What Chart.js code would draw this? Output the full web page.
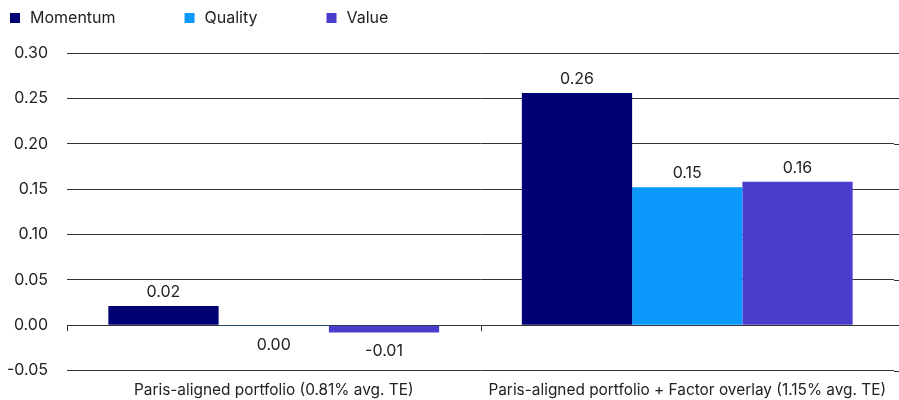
<!DOCTYPE html>
<html>
<head>
<meta charset="utf-8">
<script src="https://cdn.jsdelivr.net/npm/chart.js@4"></script>
<style>
html,body{margin:0;padding:0;background:#fff;}
#wrap{width:899px;height:400px;}
</style>
</head>
<body>
<div id="wrap"><canvas id="c" width="899" height="400"></canvas></div>
<script>
const categories = ["Paris-aligned portfolio (0.81% avg. TE)", "Paris-aligned portfolio + Factor overlay (1.15% avg. TE)"];
const seriesNames = ["Momentum", "Quality", "Value"];
const momentum = [0.021, 0.256];
const quality = [-0.001, 0.152];
const value = [-0.008, 0.158];
const seriesColors = ["#000075", "#0a98fa", "#4a3dcb"];
const yTicks = [-0.05, 0.00, 0.05, 0.10, 0.15, 0.20, 0.25, 0.30];

const FONT = "Inter, 'Noto Sans', sans-serif";
const TEXT = "#222222";

const extras = {
  id: 'extras',
  afterDatasetsDraw(chart) {
    const ctx = chart.ctx;
    ctx.save();
    ctx.font = "16px " + FONT;
    ctx.fillStyle = TEXT;
    ctx.textAlign = 'center';
    chart.data.datasets.forEach((ds, di) => {
      const meta = chart.getDatasetMeta(di);
      meta.data.forEach((bar, i) => {
        const v = ds.data[i];
        const txt = (Math.round(v * 100) / 100).toFixed(2);
        if (v > 0.0005) {
          ctx.textBaseline = 'bottom';
          ctx.fillText(txt, bar.x, bar.y - 6);
        } else {
          ctx.textBaseline = 'top';
          ctx.fillText(txt, bar.x, Math.max(bar.y, bar.base) + 11);
        }
      });
    });
    const xs = chart.scales.x, ys = chart.scales.y;
    const y0 = ys.getPixelForValue(0);
    const half = (xs.getPixelForValue(1) - xs.getPixelForValue(0)) / 2;
    ctx.strokeStyle = '#333';
    ctx.lineWidth = 1;
    for (let i = 0; i < categories.length; i++) {
      const x = Math.round(xs.getPixelForValue(i) - half) + 0.5;
      ctx.beginPath();
      ctx.moveTo(x, y0);
      ctx.lineTo(x, y0 + 6);
      ctx.stroke();
    }
    yTicks.forEach(t => {
      const y = Math.round(ys.getPixelForValue(t)) + 0.5;
      ctx.beginPath();
      ctx.moveTo(chart.chartArea.right, y);
      ctx.lineTo(chart.width, y);
      ctx.stroke();
    });
    ctx.textAlign = 'left';
    ctx.textBaseline = 'middle';
    let lx = 10;
    chart.data.datasets.forEach((ds) => {
      ctx.fillStyle = ds.backgroundColor;
      ctx.fillRect(lx, 13, 10, 10);
      ctx.fillStyle = TEXT;
      ctx.fillText(ds.label, lx + 20, 18);
      lx += 20 + ctx.measureText(ds.label).width + 69;
    });
    ctx.restore();
  }
};

new Chart(document.getElementById('c'), {
  type: 'bar',
  data: {
    labels: categories,
    datasets: [
      { label: seriesNames[0], data: momentum, backgroundColor: seriesColors[0] },
      { label: seriesNames[1], data: quality, backgroundColor: seriesColors[1] },
      { label: seriesNames[2], data: value, backgroundColor: seriesColors[2] }
    ]
  },
  options: {
    responsive: false,
    animation: false,
    devicePixelRatio: 1,
    layout: { padding: { top: 53, right: 5, bottom: -11, left: 0 } },
    datasets: { bar: { categoryPercentage: 0.8, barPercentage: 1.0, borderWidth: 0 } },
    plugins: { legend: { display: false }, tooltip: { enabled: false } },
    scales: {
      x: {
        grid: { display: false, drawTicks: false },
        border: { display: false },
        ticks: { color: TEXT, font: { family: FONT, size: 15.4 }, padding: 11, maxRotation: 0, autoSkip: false }
      },
      y: {
        min: -0.05, max: 0.30,
        afterBuildTicks(scale) { scale.ticks = yTicks.map(v => ({ value: v })); },
        afterFit(scale) { scale.width = 67; },
        grid: { color: '#333', drawTicks: false, lineWidth: 1 },
        border: { display: false },
        ticks: { color: TEXT, font: { family: FONT, size: 16 }, padding: 19,
          callback: v => Number(v).toFixed(2) }
      }
    }
  },
  plugins: [extras]
});
</script>
</body>
</html>
